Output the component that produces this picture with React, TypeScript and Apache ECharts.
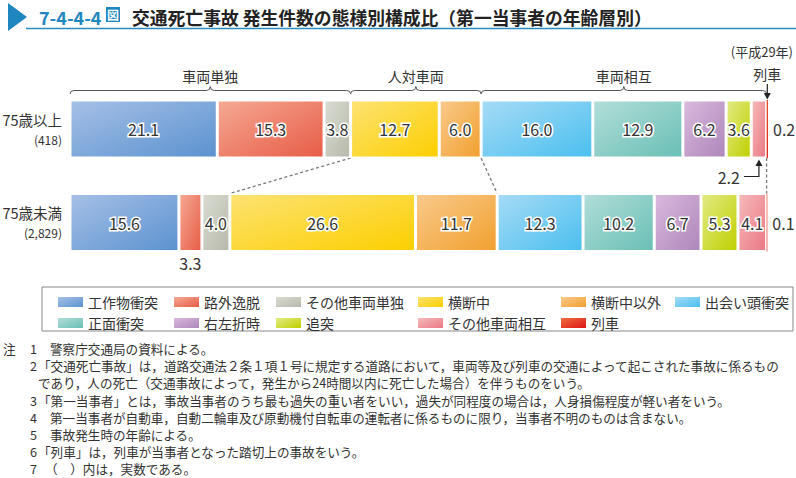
import React, { useEffect, useRef } from "react";
import * as echarts from "echarts";

const FONT = '"Noto Sans CJK JP", "Noto Sans", sans-serif';

const categories = ["75歳以上", "75歳未満"];
const counts = ["418", "2,829"];
const seriesNames = [
  "工作物衝突", "路外逸脱", "その他車両単独", "横断中", "横断中以外",
  "出会い頭衝突", "正面衝突", "右左折時", "追突", "その他車両相互", "列車",
];
const over75 = [21.1, 15.3, 3.8, 12.7, 6.0, 16.0, 12.9, 6.2, 3.6, 2.2, 0.2];
const under75 = [15.6, 3.3, 4.0, 26.6, 11.7, 12.3, 10.2, 6.7, 5.3, 4.1, 0.1];
const groupNames = ["車両単独", "人対車両", "車両相互"];
const groupStarts = [0, 3, 5];
const groupEnds = [3, 5, 10];
const trainLabel = "列車";
const yearNote = "(平成29年)";
const titleNo = "7-4-4-4";
const titleText = "交通死亡事故 発生件数の態様別構成比（第一当事者の年齢層別）";
const colorStops = [
  ["#a6c0e7", "#5b92cf"],
  ["#f5a994", "#e75c46"],
  ["#dadcd2", "#b5b9aa"],
  ["#fde272", "#fccf00"],
  ["#f9ca8c", "#f1a02e"],
  ["#a6dbf6", "#4bbfef"],
  ["#b2ded8", "#69bfb6"],
  ["#dabadd", "#ad86ba"],
  ["#e2eb84", "#bfd000"],
  ["#f6baba", "#ea7884"],
  ["#ee6c3e", "#de1616"],
];
const legendColumns = [[0, 6], [1, 7], [2, 8], [3, 9], [4, 10], [5]];
const legendColX = [53, 169, 271, 413, 556, 670];
const noteNums = ["1", "2", "", "3", "4", "5", "6", "7"];
const noteTexts = [
  "警察庁交通局の資料による。",
  "「交通死亡事故」は，道路交通法２条１項１号に規定する道路において，車両等及び列車の交通によって起こされた事故に係るもの",
  "であり，人の死亡（交通事故によって，発生から24時間以内に死亡した場合）を伴うものをいう。",
  "「第一当事者」とは，事故当事者のうち最も過失の重い者をいい，過失が同程度の場合は，人身損傷程度が軽い者をいう。",
  "第一当事者が自動車，自動二輪車及び原動機付自転車の運転者に係るものに限り，当事者不明のものは含まない。",
  "事故発生時の年齢による。",
  "「列車」は，列車が当事者となった踏切上の事故をいう。",
  "（　）内は，実数である。",
];

const BLUE = "#1f86c0";
const TXT = "#333";

export default function App() {
  const ref = useRef<HTMLDivElement>(null);
  useEffect(() => {
    const chart = echarts.init(ref.current!, null, { renderer: "svg" });
    const grad = (c: string[]) =>
      new echarts.graphic.LinearGradient(0, 0, 1, 1, [
        { offset: 0, color: c[0] },
        { offset: 1, color: c[1] },
      ]);
    const rows = [over75, under75];
    const fmt = (p: any) => Number(p.value).toFixed(1);
    const insideLabel = {
      show: true,
      position: "inside",
      formatter: fmt,
      fontSize: 16,
      color: TXT,
      textBorderColor: "#fff",
      textBorderWidth: 3,
      fontFamily: FONT,
    };
    const plainLabel = { show: true, formatter: fmt, fontSize: 16, color: TXT, fontFamily: FONT };
    const last = seriesNames.length - 1;
    const series = seriesNames.map((name, si) => ({
      name,
      type: "bar",
      stack: "total",
      barWidth: 58,
      itemStyle: {
        color: grad(colorStops[si]),
        borderColor: "#fff",
        borderWidth: si === last ? 0 : 1.5,
      },
      data: rows.map((r, ri) => {
        const v = r[si];
        let label: any;
        if (v >= 3.5) label = insideLabel;
        else if (si === last) label = { ...plainLabel, position: "right", distance: 5 };
        else if (ri === 1) label = { ...plainLabel, position: "bottom", distance: 3 };
        else label = { show: false };
        return { value: v, label };
      }),
    }));

    const legends = legendColumns.map((col, ci) => ({
      orient: "vertical",
      left: legendColX[ci],
      top: 289,
      itemWidth: 25,
      itemHeight: 10,
      itemGap: 5,
      icon: "rect",
      selectedMode: false,
      data: col.map((i) => seriesNames[i]),
      itemStyle: { borderWidth: 0 },
      textStyle: { fontSize: 14, color: TXT, fontFamily: FONT, lineHeight: 16 },
    }));

    const staticGraphics: any[] = [
      { type: "polygon", shape: { points: [[8, 3], [8, 31], [27, 17]] }, style: { fill: BLUE } },
      { type: "text", x: 39, y: 17, style: { text: titleNo, fill: BLUE, fontSize: 18, fontWeight: "bold", fontFamily: FONT, verticalAlign: "middle" } },
      { type: "rect", shape: { x: 106, y: 7, width: 14, height: 15 }, style: { fill: BLUE } },
      { type: "text", x: 113, y: 14.5, style: { text: "図", fill: "#fff", fontSize: 12, fontWeight: "bold", fontFamily: FONT, align: "center", verticalAlign: "middle" } },
      { type: "text", x: 132, y: 17, style: { text: titleText, fill: "#222", fontSize: 17.8, fontWeight: "bold", fontFamily: FONT, verticalAlign: "middle" } },
      { type: "line", shape: { x1: 26, y1: 28.5, x2: 796, y2: 28.5 }, style: { stroke: "#2a8cc0", lineWidth: 1.5 } },
      { type: "text", x: 793, y: 51, style: { text: yearNote, fill: TXT, fontSize: 13, fontFamily: FONT, align: "right", verticalAlign: "middle" } },
      { type: "rect", shape: { x: 42, y: 287, width: 751, height: 44 }, style: { fill: "none", stroke: "#888", lineWidth: 1 } },
      { type: "text", x: 3, y: 348.5, style: { text: "注", fill: TXT, fontSize: 12.6, fontFamily: FONT, verticalAlign: "middle" } },
    ];
    noteTexts.forEach((t, i) => {
      const y = 348.5 + i * 17.2;
      if (noteNums[i]) {
        staticGraphics.push({ type: "text", x: 30, y, style: { text: noteNums[i], fill: TXT, fontSize: 12.6, fontFamily: FONT, verticalAlign: "middle" } });
      }
      const x = t.startsWith("「") || !noteNums[i] ? 38 : t.startsWith("（") ? 45 : 50;
      staticGraphics.push({ type: "text", x, y, style: { text: t, fill: TXT, fontSize: 12.6, fontFamily: FONT, verticalAlign: "middle" } });
    });

    chart.setOption({
      animation: false,
      textStyle: { fontFamily: FONT },
      grid: { left: 70, right: 28, top: 82.25, bottom: 208.75, containLabel: false, outerBoundsMode: "none" },
      xAxis: { type: "value", min: 0, max: 100, show: false },
      yAxis: {
        type: "category",
        inverse: true,
        data: categories,
        axisLine: { show: false },
        axisTick: { show: false },
        axisLabel: {
          margin: 8,
          align: "right",
          formatter: (v: string, i: number) => `{a|${v}}\n{b|(${counts[i]})}`,
          rich: {
            a: { fontSize: 14.5, color: TXT, lineHeight: 20, fontFamily: FONT, align: "right" },
            b: { fontSize: 12, color: TXT, lineHeight: 20, fontFamily: FONT, align: "right" },
          },
        },
      },
      legend: legends,
      series,
      graphic: staticGraphics,
    });

    const toPx = (v: number, row: number) =>
      chart.convertToPixel({ xAxisIndex: 0, yAxisIndex: 0 }, [v, row]) as number[];
    const cum = (r: number[]) => {
      const out = [0];
      r.forEach((v) => out.push(out[out.length - 1] + v));
      return out;
    };
    const cTop = cum(over75);
    const cBot = cum(under75);
    const half = 29;
    const topY = toPx(0, 0)[1];
    const botY = toPx(0, 1)[1];
    const topBarTop = topY - half;
    const topBarBottom = topY + half;
    const botBarTop = botY - half;
    const xOf = (v: number) => toPx(v, 0)[0];

    const dyn: any[] = [];
    const braceBase = topBarTop - 6;
    groupNames.forEach((g, gi) => {
      const a = xOf(cTop[groupStarts[gi]]);
      const b = xOf(cTop[groupEnds[gi]]);
      const m = (a + b) / 2;
      const yl = braceBase - 3.5;
      const yp = braceBase - 7.5;
      const d = `M${a},${braceBase} Q${a},${yl} ${a + 4},${yl} L${m - 4},${yl} Q${m},${yl} ${m},${yp} Q${m},${yl} ${m + 4},${yl} L${b - 4},${yl} Q${b},${yl} ${b},${braceBase}`;
      const nm = "brace" + gi;
      echarts.graphic.registerShape(nm, echarts.graphic.extendPath(d, {}) as any);
      dyn.push({ type: nm, x: 0, y: 0, style: { fill: "none", stroke: "#555", lineWidth: 1 } });
      dyn.push({ type: "text", x: m, y: braceBase - 18, style: { text: g, fill: TXT, fontSize: 14, fontFamily: FONT, align: "center", verticalAlign: "middle" } });
    });

    // train arrow
    const tx = xOf(cTop[last] + over75[last] / 2);
    dyn.push({ type: "text", x: tx, y: 74, style: { text: trainLabel, fill: TXT, fontSize: 14, fontFamily: FONT, align: "center", verticalAlign: "middle" } });
    dyn.push({ type: "line", shape: { x1: tx, y1: 84, x2: tx, y2: topBarTop - 6 }, style: { stroke: "#222", lineWidth: 1.2 } });
    dyn.push({ type: "polygon", shape: { points: [[tx - 3.5, topBarTop - 7], [tx + 3.5, topBarTop - 7], [tx, topBarTop - 0.5]] }, style: { fill: "#222" } });

    // connectors between group boundaries
    [groupEnds[0], groupEnds[1], groupEnds[2]].forEach((idx) => {
      dyn.push({
        type: "line",
        shape: { x1: xOf(cTop[idx]), y1: topBarBottom, x2: xOf(cBot[idx]), y2: botBarTop },
        style: { stroke: "#777", lineWidth: 1.3, lineDash: [3, 2.5] },
      });
    });

    // 2.2 arrow
    const si = last - 1;
    const ax = xOf(cTop[si] + over75[si] / 2);
    const ay = topBarBottom + 18.5;
    dyn.push({ type: "polyline", shape: { points: [[ax - 15, ay], [ax, ay], [ax, topBarBottom + 7]] }, style: { stroke: "#222", lineWidth: 1.2, fill: "none" } });
    dyn.push({ type: "polygon", shape: { points: [[ax - 3.5, topBarBottom + 8], [ax + 3.5, topBarBottom + 8], [ax, topBarBottom + 1.5]] }, style: { fill: "#222" } });
    dyn.push({ type: "text", x: ax - 19, y: ay, style: { text: over75[si].toFixed(1), fill: TXT, fontSize: 16, fontFamily: FONT, align: "right", verticalAlign: "middle" } });

    chart.setOption({ graphic: [...staticGraphics, ...dyn] });

    return () => chart.dispose();
  }, []);
  return <div ref={ref} style={{ position: "absolute", left: 0, top: 0, width: 796, height: 478 }} />;
}
